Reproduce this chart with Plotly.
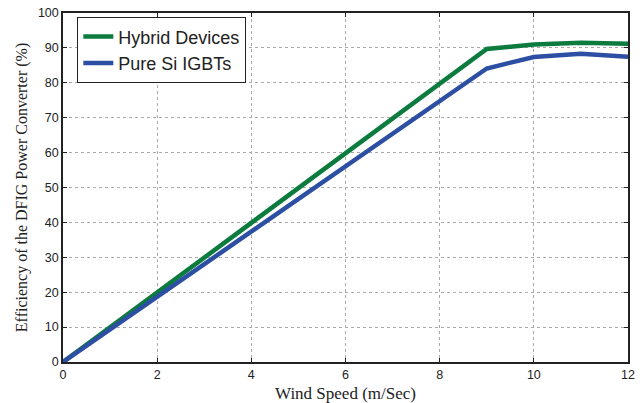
import plotly.graph_objects as go

wind_speed = [0, 1, 2, 3, 4, 5, 6, 7, 8, 9, 10, 11, 12]
hybrid = [0, 9.97, 19.9, 29.9, 39.9, 49.8, 59.8, 69.8, 79.7, 89.7, 91.0, 91.5, 91.2]
pure_si = [0, 9.35, 18.7, 28.0, 37.4, 46.7, 56.1, 65.4, 74.8, 84.1, 87.4, 88.3, 87.5]
x_ticks = [0, 2, 4, 6, 8, 10, 12]
y_ticks = [0, 10, 20, 30, 40, 50, 60, 70, 80, 90, 100]

fig = go.Figure()
fig.add_trace(go.Scatter(x=wind_speed, y=hybrid, mode="lines", name="Hybrid Devices",
                         line=dict(color="#0b7b3e", width=4.5)))
fig.add_trace(go.Scatter(x=wind_speed, y=pure_si, mode="lines", name="Pure Si IGBTs",
                         line=dict(color="#2c4fa3", width=4.5)))

axis_common = dict(
    showline=True, linecolor="#222", linewidth=1.5, mirror="ticks",
    ticks="inside", ticklen=4, tickcolor="#222",
    showgrid=True, gridcolor="#aaa", griddash="dot", gridwidth=1,
    zeroline=False, automargin=False,
    tickfont=dict(family="Arial, Liberation Sans", size=12.5, color="#222"),
)
fig.update_xaxes(range=[0, 12], tickvals=x_ticks,
                 title=dict(text="Wind Speed (m/Sec)", font=dict(family="Liberation Serif, Times New Roman", size=17, color="#222"), standoff=8),
                 **axis_common)
fig.update_yaxes(range=[0, 100], tickvals=y_ticks,
                 title=dict(text="Efficiency of the DFIG Power Converter (%)", font=dict(family="Liberation Serif, Times New Roman", size=16, color="#222"), standoff=6),
                 **axis_common)

fig.update_layout(
    width=640, height=403,
    margin=dict(l=63, r=12, t=13, b=41),
    paper_bgcolor="white", plot_bgcolor="white",
    legend=dict(x=0.025, y=0.988, xanchor="left", yanchor="top",
                bgcolor="white", bordercolor="#222", borderwidth=1.2,
                font=dict(family="Arial, Liberation Sans", size=18, color="#222"),
                tracegroupgap=0, itemwidth=30),
    showlegend=True,
)

fig.write_html("out.html")
